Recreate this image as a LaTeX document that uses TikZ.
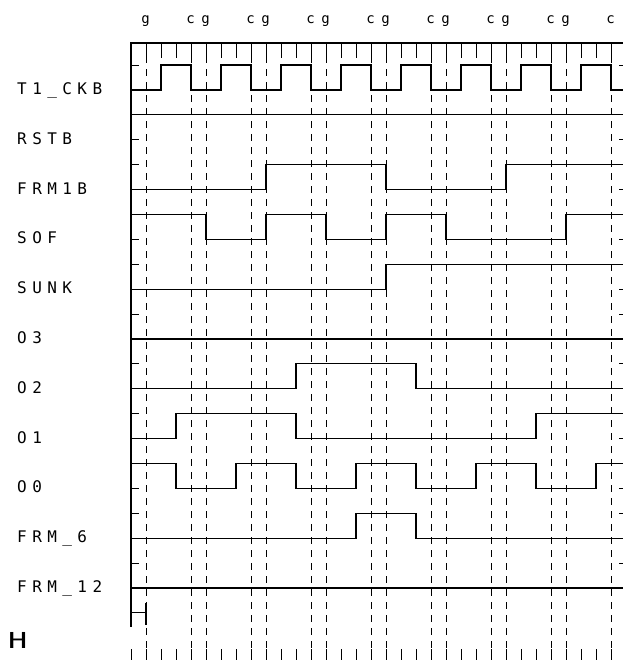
\documentclass[tikz,border=0pt]{standalone}
\usepackage{fontspec}
\usepackage{graphicx}
\newfontfamily\plotfont[LetterSpace=34]{DejaVu Sans Mono}
\tikzset{
  sig/.style={line width=1.2pt},
  gridline/.style={line width=0.9pt, dash pattern=on 7pt off 6pt},
  tick/.style={line width=0.9pt},
  lbl/.style={font=\plotfont\fontsize{16}{16}\selectfont, anchor=base west, inner sep=0pt},
  toplbl/.style={font=\plotfont\fontsize{14}{14}\selectfont\addfontfeature{LetterSpace=47}, anchor=base west, inner sep=0pt},
}
\begin{document}
\begin{tikzpicture}[x=15pt,y=-1pt]
\useasboundingbox (-8.733,0) rectangle (32.8,662);

\node[toplbl] (g0) at (0.68,23) {g};
\foreach \k in {1,...,7}
  \node[toplbl] (cg\k) at (4*\k-0.32,23) {cg};
\node[toplbl] (c8) at (31.68,23) {c};

\draw[sig] (32.8,43) -- (0,43) -- (0,627);
\foreach \t in {1,...,32}
  \draw[tick] (\t,43) -- (\t,58);
\foreach \t in {0,...,32}
  \draw[tick] (\t,649) -- (\t,660);
\foreach \t in {1,4,5,8,9,12,13,16,17,20,21,24,25,28,29,32}
  \draw[gridline] (\t,43) -- (\t,648);

\node[lbl] (t1ckb) at (-7.6,94.5) {T1\_CKB};
\node[lbl] (rstb) at (-7.6,144.3) {RSTB};
\node[lbl] (frm1b) at (-7.6,194.1) {FRM1B};
\node[lbl] (sof) at (-7.6,243.9) {SOF};
\node[lbl] (sunk) at (-7.6,293.7) {SUNK};
\node[lbl] (o3) at (-7.6,343.5) {O3};
\node[lbl] (o2) at (-7.6,393.3) {O2};
\node[lbl] (o1) at (-7.6,443.1) {O1};
\node[lbl] (o0) at (-7.6,492.9) {O0};
\node[lbl] (frm6) at (-7.6,542.7) {FRM\_6};
\node[lbl] (frm12) at (-7.6,592.5) {FRM\_12};
\node[anchor=base west, inner sep=0pt] (scale) at (-8.2,648)
  {\plotfont\fontsize{22}{22}\selectfont\scalebox{1.45}[1]{H}};

\draw[sig] (0,90) \foreach \k in {0,...,7} { -| (4*\k+2,65) -| (4*\k+4,90) } -- (32.8,90);
\draw[sig] (0,114.8) -- (32.8,114.8);
\draw[sig] (0,189.6) -| (9,164.6) -| (17,189.6) -| (25,164.6) -- (32.8,164.6);
\draw[sig] (0,214.4) -| (5,239.4) -| (9,214.4) -| (13,239.4) -| (17,214.4) -| (21,239.4) -| (29,214.4) -- (32.8,214.4);
\draw[sig] (0,289.2) -| (17,264.2) -- (32.8,264.2);
\draw[sig] (0,339) -- (32.8,339);
\draw[sig] (0,388.8) -| (11,363.8) -| (19,388.8) -- (32.8,388.8);
\draw[sig] (0,438.6) -| (3,413.6) -| (11,438.6) -| (27,413.6) -- (32.8,413.6);
\draw[sig] (0,463.4) -| (3,488.4) -| (7,463.4) -| (11,488.4) -| (15,463.4) -| (19,488.4) -| (23,463.4) -| (27,488.4) -| (31,463.4) -- (32.8,463.4);
\draw[sig] (0,538.2) -| (15,513.2) -| (19,538.2) -- (32.8,538.2);
\draw[sig] (0,588) -- (32.8,588);

\foreach \y in {65,139.8,164.6,239.4,264.2,314,363.8,413.6,488.4,513.2,563}
  \draw[tick] (0,\y) -- (0.55,\y);
\foreach \y in {65,139.8,189.6,239.4,289.2,314,363.8,438.6,488.4,513.2,563}
  \draw[tick] (32.55,\y) -- (32.8,\y);

\draw[sig] (0,612.8) -- (1,612.8);
\draw[sig] (1,603) -- (1,625);
\end{tikzpicture}
\end{document}
